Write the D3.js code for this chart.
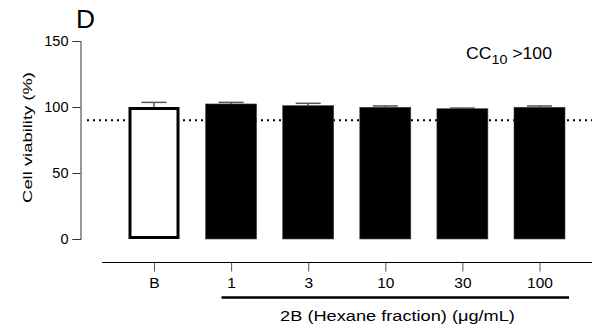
<!DOCTYPE html>
<html>
<head>
<meta charset="utf-8">
<script src="https://cdn.jsdelivr.net/npm/d3@7"></script>
<style>
  body { margin: 0; background: #fff; }
  text { font-family: "Liberation Sans", Arial, sans-serif; fill: #000; }
</style>
</head>
<body>
<div id="chart"></div>
<script>
const categories = ['B', '1', '3', '10', '30', '100'];
const viability = [100, 102.3, 101, 99.8, 98.7, 99.8];
const errors = [3.5, 1.2, 1.8, 1.0, 0.5, 1.0];
const yTicks = [0, 50, 100, 150];
const threshold = 90;
const groupLabel = '2B (Hexane fraction) (\u03bcg/mL)';

const width = 592, height = 331;

const svg = d3.select('#chart')
  .append('svg')
  .attr('width', width)
  .attr('height', height);

const x = d3.scalePoint()
  .domain(categories)
  .range([154, 539.5]);

const y = d3.scaleLinear()
  .domain([0, 150])
  .range([239, 41]);

const barWidth = 51;

// the figure's lettering is wider than Arial, so stretch text to the measured width
function stretchTo(textSel, target) {
  const node = textSel.node();
  const w = node.getComputedTextLength();
  const k = target / w;
  const cur = textSel.attr('transform') || '';
  textSel.attr('transform', cur + ` scale(${k},1)`);
}

// y axis
const yAxis = svg.append('g')
  .attr('transform', 'translate(80.5,0)')
  .call(d3.axisLeft(y).tickValues(yTicks).tickSize(8).tickPadding(4));
yAxis.select('.domain').attr('stroke', '#333');
yAxis.selectAll('.tick line').attr('stroke', '#333');
yAxis.selectAll('.tick text')
  .style('font-family', '"Liberation Sans", Arial, sans-serif')
  .style('font-size', '14.5px')
  .attr('fill', '#000');

// x axis
const xAxis = svg.append('g')
  .attr('transform', 'translate(0,262.5)')
  .call(d3.axisBottom(x).tickSize(9).tickPadding(5));
xAxis.select('.domain').remove();
xAxis.append('line')
  .attr('x1', 102).attr('x2', 592)
  .attr('stroke', '#000');
xAxis.selectAll('.tick line').attr('stroke', '#555');
xAxis.selectAll('.tick text')
  .style('font-family', '"Liberation Sans", Arial, sans-serif')
  .style('font-size', '15.5px')
  .attr('fill', '#000');

// dotted threshold
svg.append('line')
  .attr('x1', 87).attr('x2', 592)
  .attr('y1', y(threshold)).attr('y2', y(threshold))
  .attr('stroke', '#000')
  .attr('stroke-width', 2)
  .attr('stroke-dasharray', '2,4');

// error bars (upper only)
const err = svg.selectAll('.err')
  .data(categories)
  .enter()
  .append('g')
  .attr('class', 'err');
err.append('line')
  .attr('x1', d => x(d)).attr('x2', d => x(d))
  .attr('y1', (d, i) => y(viability[i]))
  .attr('y2', (d, i) => y(viability[i] + errors[i]))
  .attr('stroke', '#555')
  .attr('stroke-width', 1.5);
err.append('line')
  .attr('x1', d => x(d) - 12.5).attr('x2', d => x(d) + 12.5)
  .attr('y1', (d, i) => y(viability[i] + errors[i]))
  .attr('y2', (d, i) => y(viability[i] + errors[i]))
  .attr('stroke', '#555')
  .attr('stroke-width', 1.5);

// bars
svg.selectAll('.bar')
  .data(categories)
  .enter()
  .append('rect')
  .attr('class', 'bar')
  .attr('x', (d, i) => i === 0 ? x(d) - barWidth / 2 + 1.5 : x(d) - barWidth / 2)
  .attr('y', (d, i) => i === 0 ? y(viability[i]) + 1.5 : y(viability[i]))
  .attr('width', (d, i) => i === 0 ? barWidth - 3 : barWidth)
  .attr('height', (d, i) => i === 0 ? y(0) - y(viability[i]) - 3 : y(0) - y(viability[i]))
  .attr('fill', (d, i) => i === 0 ? '#fff' : '#000')
  .attr('stroke', (d, i) => i === 0 ? '#000' : '#444')
  .attr('stroke-width', (d, i) => i === 0 ? 3 : 0.6);

// group bracket
svg.append('line')
  .attr('x1', 221.5).attr('x2', 569)
  .attr('y1', 297.5).attr('y2', 297.5)
  .attr('stroke', '#000')
  .attr('stroke-width', 2.5);

const xLabel = svg.append('text')
  .attr('transform', 'translate(397.5,320.5)')
  .attr('text-anchor', 'middle')
  .style('font-size', '14.5px')
  .text(groupLabel);
stretchTo(xLabel, 235);

// y label
const yLabel = svg.append('text')
  .attr('transform', 'translate(32,137.5) rotate(-90)')
  .attr('text-anchor', 'middle')
  .style('font-size', '13.5px')
  .text('Cell viability (%)');
stretchTo(yLabel, 131);

// panel letter
const panel = svg.append('text')
  .attr('transform', 'translate(76,28)')
  .style('font-size', '25px')
  .text('D');
stretchTo(panel, 19);

// CC10 annotation
const cc = svg.append('text')
  .attr('transform', 'translate(466,59)')
  .style('font-size', '16px');
cc.append('tspan').text('CC');
cc.append('tspan').attr('dy', 5).style('font-size', '13px').text('10');
cc.append('tspan').attr('dy', -5).text(' >100');
stretchTo(cc, 86);
</script>
</body>
</html>
